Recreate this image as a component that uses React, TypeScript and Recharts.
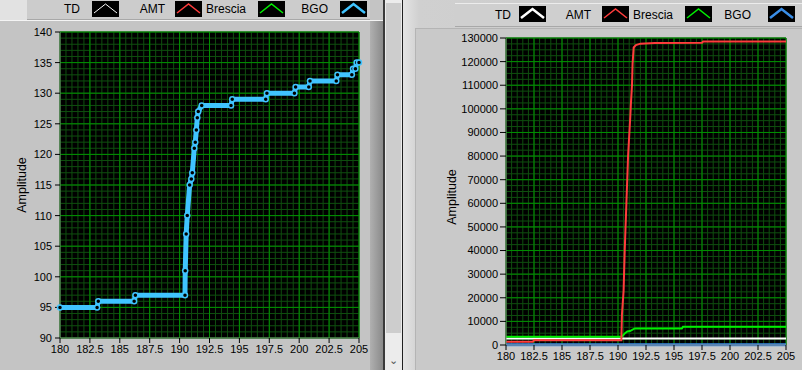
import { LineChart, Line, XAxis, YAxis, CartesianGrid } from "recharts";

const xTicks = [180, 182.5, 185, 187.5, 190, 192.5, 195, 197.5, 200, 202.5, 205];
const leftYTicks = [90, 95, 100, 105, 110, 115, 120, 125, 130, 135, 140];
const rightYTicks = [0, 10000, 20000, 30000, 40000, 50000, 60000, 70000, 80000, 90000, 100000, 110000, 120000, 130000];

// BGO (time, amplitude)
const bgoT = [180, 183.1, 183.2, 186.2, 186.3, 190.45, 190.47, 190.55, 190.64, 190.84, 190.98, 191.06, 191.23, 191.31, 191.4, 191.48, 191.56, 191.85, 194.3, 194.4, 197.2, 197.3, 199.6, 199.7, 200.8, 200.9, 203.1, 203.2, 204.4, 204.5, 204.7, 204.8, 205];
const bgoV = [95, 95, 96, 96, 97, 97, 101, 107, 110, 115, 116, 117, 121, 122, 124, 126, 127, 128, 128, 129, 129, 130, 130, 131, 131, 132, 132, 133, 133, 134, 134, 135, 135];

// TD
const tdT = [180, 205];
const tdV = [2800, 2800];

// AMT
const amtT = [180, 182.4, 182.5, 190.3, 190.35, 190.5, 190.6, 190.75, 190.9, 191.1, 191.15, 191.25, 191.3, 191.4, 191.6, 192.0, 193.3, 197.5, 197.6, 205];
const amtV = [1400, 1400, 2000, 2000, 12700, 23000, 40000, 60000, 80000, 97000, 102000, 110000, 119000, 126000, 127000, 127600, 127900, 128000, 128500, 128500];

// Brescia
const brT = [180, 190.3, 190.42, 190.63, 190.83, 191.07, 191.5, 195.7, 195.8, 205];
const brV = [3500, 3500, 3900, 5000, 5700, 5900, 7000, 7000, 7700, 7700];

const rows = (t: number[], v: number[]) => t.map((x, i) => ({ t: x, v: v[i] }));

function steps(from: number, to: number, step: number) {
  const out: number[] = [];
  for (let x = from; x <= to + 1e-9; x += step) out.push(+x.toFixed(4));
  return out;
}

const leftMinorX = steps(180, 205, 0.5);
const leftMinorY = steps(90, 140, 1);
const rightMinorX = steps(180, 205, 0.5);
const rightMinorY = steps(0, 130000, 2500);

const font = "'Liberation Sans', Arial, sans-serif";
const tickStyle = { fontSize: 11, fill: "#000", fontFamily: font };

const C = {
  td: "#ffffff",
  amt: "#ff3c3c",
  br: "#00f000",
  bgoL: "#40c4ff",
  bgoR: "#3a8ee8",
  minor: "#0f4f0f",
  major: "#009000",
};

function ampLabel(x: number, y: number) {
  return () => (
    <text x={x} y={y} transform={`rotate(-90 ${x} ${y})`} textAnchor="middle"
      dominantBaseline="central" fontSize={12.5} fontFamily={font} fill="#000">
      Amplitude
    </text>
  );
}

function Swatch({ x, y, color, w = 1.5 }: { x: number; y: number; color: string; w?: number }) {
  return (
    <svg style={{ position: "absolute", left: x, top: y }} width={27} height={16}>
      <rect x={0} y={0} width={27} height={16} fill="#000" />
      <polyline points="2,12 13.5,3 25,12" fill="none" stroke={color} strokeWidth={w} />
    </svg>
  );
}

function Lbl({ right, y, text }: { right: number; y: number; text: string }) {
  return (
    <div style={{ position: "absolute", left: right - 60, width: 60, top: y, textAlign: "right",
      fontFamily: font, fontSize: 12, color: "#000", lineHeight: "16px" }}>{text}</div>
  );
}

export default function App() {
  return (
    <div style={{ position: "fixed", left: 0, top: 0, width: 802, height: 370, background: "#c4c4c4", overflow: "hidden" }}>
      {/* left pane top bar */}
      <div style={{ position: "absolute", left: 0, top: 0, width: 27, height: 20, background: "#e2e2e2" }} />
      <div style={{ position: "absolute", left: 27, top: 0, width: 343, height: 19, background: "#cccccc", borderBottom: "1px solid #a8a8a8" }} />
      <div style={{ position: "absolute", left: 0, top: 20, width: 384, height: 1, background: "#f4f4f4" }} />
      <Lbl right={80} y={1} text="TD" />
      <Swatch x={92} y={1} color={C.td} w={1} />
      <Lbl right={165} y={1} text="AMT" />
      <Swatch x={175} y={1} color={C.amt} />
      <Lbl right={246} y={1} text="Brescia" />
      <Swatch x={258} y={1} color={C.br} />
      <Lbl right={328} y={1} text="BGO" />
      <Swatch x={340} y={1} color={C.bgoL} w={2.5} />

      {/* left frame edge + scrollbar */}
      <div style={{ position: "absolute", left: 370, top: 21, width: 13, height: 349, background: "linear-gradient(to right, #b0b0b0, #8a8a8a)" }} />
      <div style={{ position: "absolute", left: 383, top: 0, width: 2, height: 370, background: "#3a3a3a" }} />
      <div style={{ position: "absolute", left: 385, top: 0, width: 17, height: 370, background: "#ececec" }} />
      <div style={{ position: "absolute", left: 386, top: 3, width: 15, height: 330, background: "#cdcdcd" }} />
      <div style={{ position: "absolute", left: 386, top: 352, width: 15, height: 16, textAlign: "center", fontSize: 11, fontFamily: font, color: "#555", lineHeight: "16px" }}>⌄</div>
      <div style={{ position: "absolute", left: 402, top: 0, width: 1, height: 370, background: "#202020" }} />

      {/* right pane */}
      <div style={{ position: "absolute", left: 403, top: 0, width: 399, height: 370, background: "linear-gradient(to right, #e4e4e4, #d0d0d0 4%, #c8c8c8)" }} />
      <div style={{ position: "absolute", left: 415, top: 28, width: 387, height: 342, background: "#c9c9c9", borderLeft: "1px solid #b4b4b4", borderTop: "1px solid #b4b4b4" }} />
      <div style={{ position: "absolute", left: 455, top: 3, width: 347, height: 22, background: "#cfcfcf", borderTop: "1px solid #ececec", borderBottom: "1px solid #a8a8a8" }} />
      <Lbl right={511} y={7} text="TD" />
      <Swatch x={519} y={6} color={C.td} w={2.5} />
      <Lbl right={591} y={7} text="AMT" />
      <Swatch x={602} y={6} color={C.amt} />
      <Lbl right={673} y={7} text="Brescia" />
      <Swatch x={685} y={6} color={C.br} />
      <Lbl right={751} y={7} text="BGO" />
      <Swatch x={768} y={6} color={C.bgoR} w={2.5} />

      {/* left chart */}
      <div style={{ position: "absolute", left: 0, top: 0 }}>
        <LineChart width={370} height={370} margin={{ top: 32, right: 11, left: 10, bottom: 8 }}>
          <XAxis xAxisId="x" dataKey="t" type="number" domain={[180, 205]} ticks={xTicks} interval={0}
            height={24} tick={tickStyle} tickSize={5} tickMargin={2}
            axisLine={{ stroke: "#7a7a7a" }} tickLine={{ stroke: "#000" }} />
          <YAxis yAxisId="y" type="number" domain={[90, 140]} ticks={leftYTicks} interval={0}
            width={50} tick={tickStyle} tickSize={5} tickMargin={3}
            axisLine={{ stroke: "#7a7a7a" }} tickLine={{ stroke: "#000" }}
            label={{ content: ampLabel(22, 185) }} />
          <CartesianGrid xAxisId="x" yAxisId="y" stroke={C.minor} fill="#000" fillOpacity={1}
            verticalValues={leftMinorX} horizontalValues={leftMinorY} />
          <CartesianGrid xAxisId="x" yAxisId="y" stroke={C.major}
            verticalValues={xTicks} horizontalValues={leftYTicks} />
          <Line xAxisId="x" yAxisId="y" data={rows(bgoT, bgoV)} dataKey="v" type="linear"
            stroke={C.bgoL} strokeWidth={5} strokeLinejoin="round"
            dot={{ r: 2.5, fill: "#000", stroke: C.bgoL, strokeWidth: 1.5 }}
            isAnimationActive={false} />
        </LineChart>
      </div>

      {/* right chart */}
      <div style={{ position: "absolute", left: 402, top: 0 }}>
        <LineChart width={400} height={370} margin={{ top: 38, right: 16, left: 14, bottom: 5 }}>
          <XAxis xAxisId="x" dataKey="t" type="number" domain={[180, 205]} ticks={xTicks} interval={0}
            height={20} tick={tickStyle} tickSize={5} tickMargin={2}
            axisLine={{ stroke: "#7a7a7a" }} tickLine={{ stroke: "#000" }} />
          <YAxis yAxisId="y" type="number" domain={[0, 130000]} ticks={rightYTicks} interval={0}
            width={90} tick={tickStyle} tickSize={6} tickMargin={2}
            axisLine={{ stroke: "#7a7a7a" }} tickLine={{ stroke: "#000" }}
            label={{ content: ampLabel(50, 197) }} />
          <CartesianGrid xAxisId="x" yAxisId="y" stroke={C.minor} fill="#000" fillOpacity={1}
            verticalValues={rightMinorX} horizontalValues={rightMinorY} />
          <CartesianGrid xAxisId="x" yAxisId="y" stroke={C.major}
            verticalValues={xTicks} horizontalValues={rightYTicks} />
          <Line xAxisId="x" yAxisId="y" data={rows(bgoT, bgoV)} dataKey="v" type="linear"
            stroke={C.bgoR} strokeWidth={3} dot={false} isAnimationActive={false} />
          <Line xAxisId="x" yAxisId="y" data={rows(tdT, tdV)} dataKey="v" type="linear"
            stroke={C.td} strokeWidth={2} dot={false} isAnimationActive={false} />
          <Line xAxisId="x" yAxisId="y" data={rows(brT, brV)} dataKey="v" type="linear"
            stroke={C.br} strokeWidth={2} dot={false} isAnimationActive={false} />
          <Line xAxisId="x" yAxisId="y" data={rows(amtT, amtV)} dataKey="v" type="linear"
            stroke={C.amt} strokeWidth={2} dot={false} isAnimationActive={false} />
        </LineChart>
      </div>
    </div>
  );
}
